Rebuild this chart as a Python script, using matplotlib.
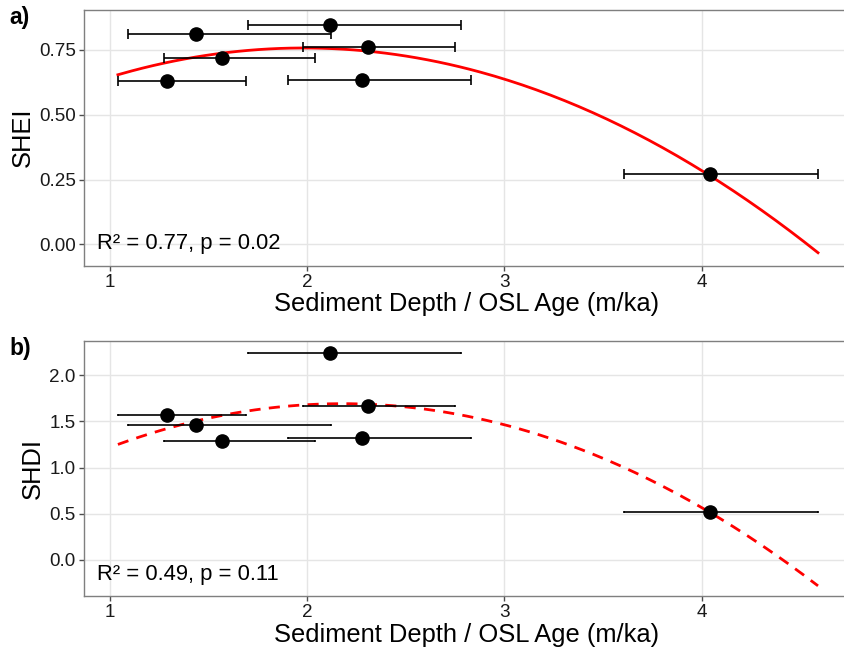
import numpy as np
import matplotlib.pyplot as plt

plt.rcParams['font.family'] = ['Liberation Sans', 'DejaVu Sans']

# Sediment depth / OSL age (m/ka) with lower / upper bounds
rate = [1.29, 1.438, 1.57, 2.115, 2.28, 2.31, 4.04]
rate_lo = [1.04, 1.09, 1.275, 1.70, 1.905, 1.98, 3.605]
rate_hi = [1.69, 2.12, 2.04, 2.78, 2.83, 2.75, 4.59]

# diversity indices
shei = [0.63, 0.812, 0.72, 0.846, 0.635, 0.76, 0.27]
shdi = [1.57, 1.46, 1.29, 2.24, 1.32, 1.67, 0.52]

panels = [
    ('a)', 'SHEI', shei, 'R² = 0.77, p = 0.02', '-', 3.5,
     (-0.081, 0.904), [0.0, 0.25, 0.5, 0.75], '{:.2f}'),
    ('b)', 'SHDI', shdi, 'R² = 0.49, p = 0.11', '--', 1.0,
     (-0.39, 2.37), [0.0, 0.5, 1.0, 1.5, 2.0], '{:.1f}'),
]

fig = plt.figure(figsize=(8.45, 6.54), dpi=100)
boxes = [[0.0994, 0.594, 0.906, 0.391], [0.0994, 0.0887, 0.906, 0.390]]

x = np.array(rate)
xerr = [x - np.array(rate_lo), np.array(rate_hi) - x]
xfit = np.linspace(min(rate_lo), max(rate_hi), 200)

for box, (tag, ylab, yv, stat, ls, cap, ylim, yt, fmt) in zip(boxes, panels):
    ax = fig.add_axes(box)
    ax.set_xlim(0.868, 4.75)
    ax.set_ylim(*ylim)
    ax.set_xticks([1, 2, 3, 4])
    ax.set_yticks(yt)
    ax.set_yticklabels([fmt.format(v) for v in yt])
    ax.grid(True, color='#e5e5e5', lw=1.0)
    ax.set_axisbelow(True)
    for s in ax.spines.values():
        s.set_color('#7f7f7f')
        s.set_linewidth(1.0)
    ax.tick_params(colors='#4d4d4d', labelsize=13.6, length=3.5, width=1.0, pad=2.5)
    for lab in ax.get_xticklabels() + ax.get_yticklabels():
        lab.set_color('#1a1a1a')

    # quadratic fit
    coef = np.polyfit(rate, yv, 2)
    ax.plot(xfit, np.polyval(coef, xfit), color='red', lw=2, ls=ls,
            dashes=(4, 3) if ls == '--' else (None, None), zorder=2)

    ax.errorbar(rate, yv, xerr=xerr, fmt='none', ecolor='black',
                elinewidth=1.2, capsize=cap, capthick=1.2, zorder=3)
    ax.plot(rate, yv, 'o', color='black', ms=9.5, zorder=4)

    ax.text(0.017, 0.085, stat, transform=ax.transAxes, fontsize=15.8,
            va='center', ha='left', color='black')
    ax.set_xlabel('Sediment Depth / OSL Age (m/ka)', fontsize=18.4, labelpad=1)
    ax.set_ylabel(ylab, fontsize=18.4, labelpad=3)
    fig.text(0.011, box[1] + box[3] - 0.012, tag, fontsize=16.5,
             fontweight='bold', va='center', ha='left')

fig.savefig('out.png', dpi=100)
